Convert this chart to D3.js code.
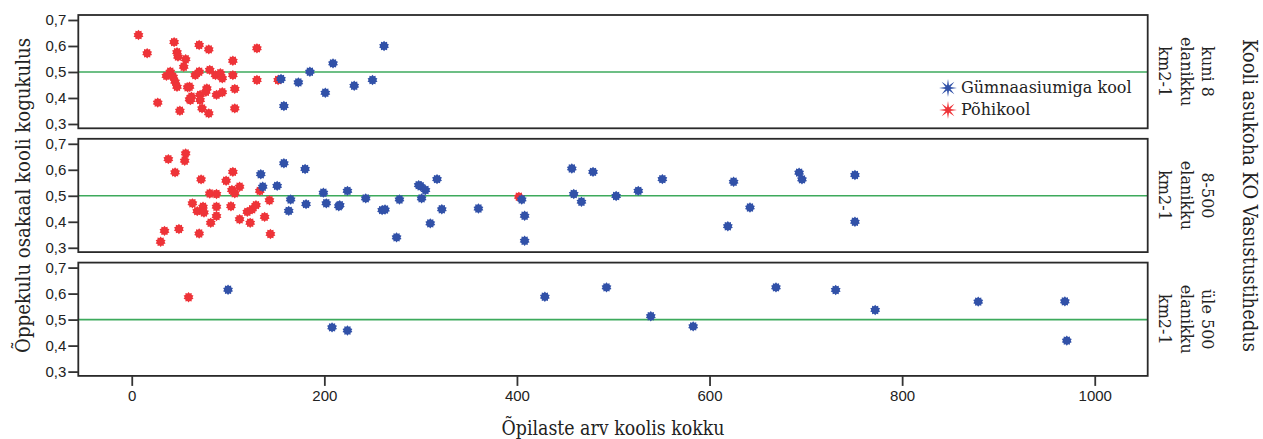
<!DOCTYPE html>
<html lang="et">
<head>
<meta charset="UTF-8">
<title>Õppekulu osakaal</title>
<style>
  body { margin: 0; background: #fff; }
  .ttl { font-family: "DejaVu Serif", serif; fill: #222; }
</style>
</head>
<body>
<script src="https://d3js.org/d3.v7.min.js"></script>
<script>
    // data: [students, share] per panel and school type
    var xTicks = [0, 200, 400, 600, 800, 1000],
        yTicks = [0.3, 0.4, 0.5, 0.6, 0.7],
        panelLabels = [['kuni 8', 'elanikku', 'km2-1'], ['8-500', 'elanikku', 'km2-1'], ['üle 500', 'elanikku', 'km2-1']],
        seriesNames = ['Gümnaasiumiga kool', 'Põhikool'];

    var pohi1 = [[7,0.642],[16,0.572],[27,0.382],[44,0.615],[47,0.576],[48,0.559],[56,0.549],[54,0.520],[40,0.501],
        [36,0.485],[43,0.482],[45,0.463],[47,0.443],[60,0.443],[50,0.351],[60,0.395],[62,0.405],[70,0.604],[80,0.587],
        [66,0.488],[70,0.501],[71,0.412],[71,0.392],[78,0.437],[77,0.424],[81,0.508],[87,0.488],[92,0.495],[94,0.476],
        [88,0.412],[94,0.422],[73,0.360],[80,0.341],[105,0.543],[105,0.488],[107,0.435],[107,0.360],[130,0.591],
        [130,0.469],[152,0.469],[58,0.441],[61,0.392]];
    var gym1 = [[155,0.473],[158,0.369],[173,0.460],[185,0.501],[201,0.420],[209,0.533],[231,0.447],[250,0.469],[262,0.600]];

    var pohi2 = [[38,0.641],[56,0.663],[55,0.635],[45,0.590],[72,0.563],[30,0.323],[34,0.365],[49,0.372],[63,0.471],
        [68,0.441],[74,0.458],[75,0.436],[70,0.355],[81,0.509],[88,0.507],[88,0.458],[88,0.422],[82,0.396],[98,0.558],
        [105,0.592],[104,0.522],[112,0.535],[107,0.510],[103,0.460],[112,0.410],[123,0.396],[120,0.438],[125,0.448],
        [129,0.464],[133,0.519],[143,0.483],[138,0.419],[144,0.353],[402,0.496]];
    var gym2 = [[134,0.583],[136,0.535],[151,0.538],[158,0.625],[165,0.486],[163,0.442],[180,0.603],[181,0.468],
        [199,0.512],[202,0.471],[216,0.464],[215,0.460],[224,0.519],[243,0.490],[260,0.445],[263,0.447],[278,0.486],
        [275,0.340],[298,0.541],[300,0.537],[305,0.522],[301,0.490],[317,0.564],[310,0.394],[322,0.448],[360,0.451],
        [405,0.486],[408,0.423],[408,0.327],[457,0.605],[459,0.507],[467,0.477],[479,0.592],[503,0.499],[526,0.519],
        [551,0.564],[619,0.383],[625,0.554],[642,0.455],[693,0.589],[696,0.563],[751,0.580],[751,0.400]];

    var pohi3 = [[59,0.586]];
    var gym3 = [[100,0.615],[208,0.470],[224,0.458],[429,0.588],[493,0.624],[539,0.513],[583,0.474],[669,0.624],
        [731,0.614],[772,0.537],[879,0.569],[969,0.570],[971,0.419]];

    var refLine = 0.5;

    var panels = [
        {label: panelLabels[0], gym: gym1, pohi: pohi1},
        {label: panelLabels[1], gym: gym2, pohi: pohi2},
        {label: panelLabels[2], gym: gym3, pohi: pohi3}
    ];

    var width = 1263, height = 439,
        left = 78.3, right = 1147.7,
        top0 = 15, panelH = 113.3, step = 123.8,
        blue = '#3151a8', red = '#ee3338', green = '#3daa5c',
        tickFont = '"Liberation Sans", Arial, sans-serif';

    var svg = d3.select('body').append('svg')
        .attr('width', width)
        .attr('height', height);

    var x = d3.scaleLinear().domain([-55.5, 1055]).range([left, right]);
    var y = d3.scaleLinear().domain([0.2834, 0.7192]).range([panelH, 0]);

    // jagged burst marker
    function burst(n, r1, r2) {
        var pts = [];
        for (var i = 0; i < n * 2; i++) {
            pts.push([i * Math.PI / n, i % 2 ? r2 : r1]);
        }
        return d3.lineRadial().curve(d3.curveLinearClosed)(pts);
    }
    var dotPath = burst(10, 5.2, 3.9),
        legPath = burst(8, 9, 2.6);

    panels.forEach(function (p, i) {
        var g = svg.append('g').attr('transform', 'translate(0,' + (top0 + i * step) + ')');

        g.append('line')
            .attr('x1', left).attr('x2', right)
            .attr('y1', y(refLine)).attr('y2', y(refLine))
            .attr('stroke', green).attr('stroke-width', 1.6);

        g.selectAll('path.pohi').data(p.pohi).enter().append('path')
            .attr('class', 'pohi')
            .attr('d', dotPath)
            .attr('fill', red)
            .attr('transform', function (d) { return 'translate(' + x(d[0]) + ',' + y(d[1]) + ')'; });

        g.selectAll('path.gym').data(p.gym).enter().append('path')
            .attr('class', 'gym')
            .attr('d', dotPath)
            .attr('fill', blue)
            .attr('transform', function (d) { return 'translate(' + x(d[0]) + ',' + y(d[1]) + ')'; });

        g.append('rect')
            .attr('x', left).attr('y', 0)
            .attr('width', right - left).attr('height', panelH)
            .attr('fill', 'none').attr('stroke', '#2a2a2a').attr('stroke-width', 1.8);

        var ya = g.append('g')
            .attr('transform', 'translate(' + left + ',0)')
            .call(d3.axisLeft(y).tickValues(yTicks).tickSize(10).tickPadding(2)
                .tickFormat(function (d) { return d3.format('.1f')(d).replace('.', ','); }))
            .attr('font-family', tickFont)
            .attr('font-size', 15);
        ya.select('.domain').remove();
        ya.selectAll('.tick line').attr('stroke', '#333').attr('stroke-width', 1.8);
        ya.selectAll('.tick text').attr('fill', '#222');

        var lab = g.append('text')
            .attr('class', 'ttl')
            .attr('font-size', 16)
            .attr('transform', 'translate(' + 1202 + ',' + (panelH / 2) + ') rotate(90)')
            .attr('text-anchor', 'middle');
        p.label.forEach(function (t, k) {
            lab.append('tspan').attr('x', 0).attr('dy', k === 0 ? 0 : 21.5).text(t);
        });
    });

    var bottom = top0 + 2 * step + panelH;
    var xa = svg.append('g')
        .attr('transform', 'translate(0,' + bottom + ')')
        .call(d3.axisBottom(x).tickValues(xTicks).tickSize(10).tickPadding(4).tickFormat(d3.format('d')))
        .attr('font-family', tickFont)
        .attr('font-size', 15);
    xa.select('.domain').remove();
    xa.selectAll('.tick line').attr('stroke', '#333').attr('stroke-width', 1.8);
    xa.selectAll('.tick text').attr('fill', '#222');

    // titles
    svg.append('text').attr('class', 'ttl')
        .attr('font-size', 20)
        .attr('x', (left + right) / 2).attr('y', 435)
        .attr('text-anchor', 'middle')
        .attr('textLength', 223).attr('lengthAdjust', 'spacingAndGlyphs')
        .text('Õpilaste arv koolis kokku');

    svg.append('text').attr('class', 'ttl')
        .attr('font-size', 20)
        .attr('transform', 'translate(30,' + (top0 + bottom) / 2 + ') rotate(-90)')
        .attr('text-anchor', 'middle')
        .attr('textLength', 315).attr('lengthAdjust', 'spacingAndGlyphs')
        .text('Õppekulu osakaal kooli kogukulus');

    svg.append('text').attr('class', 'ttl')
        .attr('font-size', 20)
        .attr('transform', 'translate(1243,' + (top0 + bottom) / 2 + ') rotate(90)')
        .attr('text-anchor', 'middle')
        .attr('textLength', 313).attr('lengthAdjust', 'spacingAndGlyphs')
        .text('Kooli asukoha KO Vasustustihedus');

    // legend
    var leg = svg.append('g').attr('transform', 'translate(948,88)');
    seriesNames.forEach(function (s, k) {
        leg.append('path')
            .attr('d', legPath)
            .attr('fill', k === 0 ? blue : red)
            .attr('transform', 'translate(0,' + (k * 22) + ')');
        leg.append('text').attr('class', 'ttl')
            .attr('font-size', 16)
            .attr('x', 13).attr('y', k * 22 + 5)
            .text(s);
    });
</script>
</body>
</html>
